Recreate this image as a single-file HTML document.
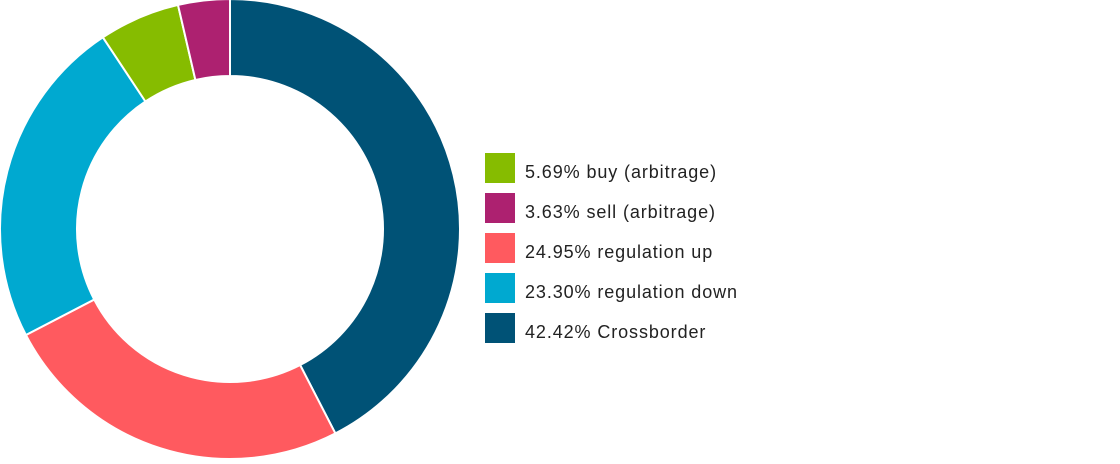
<!DOCTYPE html>
<html><head><meta charset="utf-8"><style>
body{margin:0;background:#fff;width:1120px;height:459px;overflow:hidden;font-family:"Liberation Sans",sans-serif}
</style></head><body>
<svg id="chart" width="1120" height="459" xmlns="http://www.w3.org/2000/svg"></svg>
<script>
const categories=["Crossborder","regulation up","regulation down","buy (arbitrage)","sell (arbitrage)"];
const values=[42.42,24.95,23.30,5.69,3.63];
const colors=["#005276","#ff5a5f","#00a9d0","#86bc00","#ad2170"];
const legendOrder=[3,4,1,2,0];
const svg=document.getElementById('chart');
const NS="http://www.w3.org/2000/svg";
const cx=230,cy=229,R=230,r=153;
const total=values.reduce((a,b)=>a+b,0);
function pt(a,rad){return [cx+rad*Math.sin(a),cy-rad*Math.cos(a)];}
let acc=0;
values.forEach((v,i)=>{
 const a0=acc/total*2*Math.PI;acc+=v;const a1=acc/total*2*Math.PI;
 const large=(a1-a0)>Math.PI?1:0;
 const [x0,y0]=pt(a0,R),[x1,y1]=pt(a1,R),[x2,y2]=pt(a1,r),[x3,y3]=pt(a0,r);
 const p=document.createElementNS(NS,'path');
 p.setAttribute('d',`M${x0},${y0}A${R},${R} 0 ${large} 1 ${x1},${y1}L${x2},${y2}A${r},${r} 0 ${large} 0 ${x3},${y3}Z`);
 p.setAttribute('fill',colors[i]);p.setAttribute('stroke','#fff');p.setAttribute('stroke-width','2');
 
 
 svg.appendChild(p);
});
legendOrder.forEach((i,k)=>{
 const g=document.createElementNS(NS,'g');
 
 
 const y=153+k*40;
 const s=document.createElementNS(NS,'rect');
 s.setAttribute('x',485);s.setAttribute('y',y);s.setAttribute('width',30);s.setAttribute('height',30);s.setAttribute('fill',colors[i]);
 const t=document.createElementNS(NS,'text');
 t.setAttribute('x',525);t.setAttribute('y',y+25);t.setAttribute('font-size','18');t.setAttribute('letter-spacing','0.9');t.setAttribute('fill','#222');
 t.setAttribute('font-family','Liberation Sans, sans-serif');
 t.textContent=values[i].toFixed(2)+'% '+categories[i];
 g.appendChild(s);g.appendChild(t);svg.appendChild(g);
});
</script>
</body></html>
